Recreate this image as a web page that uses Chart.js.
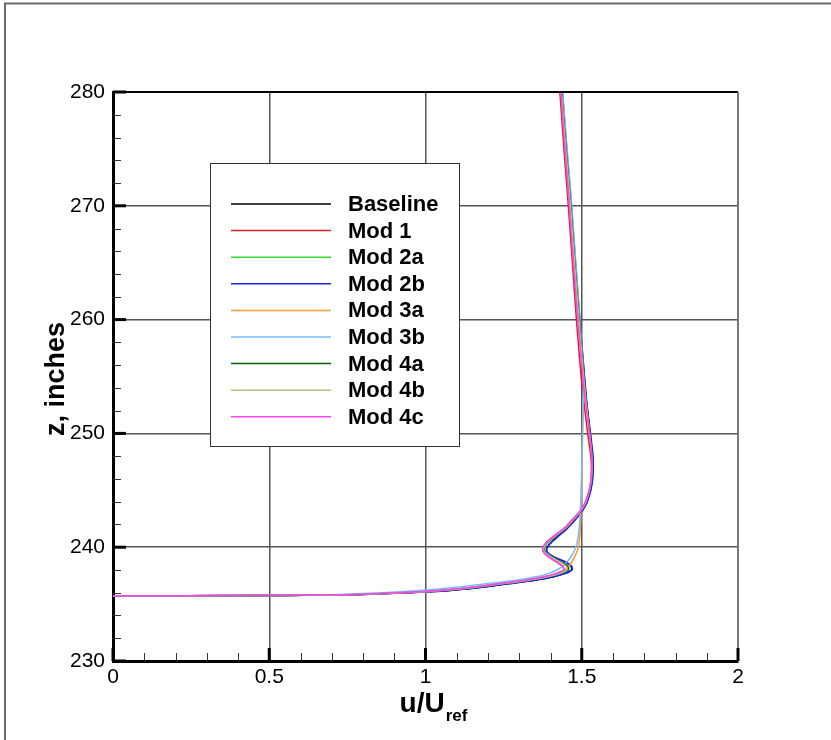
<!DOCTYPE html>
<html>
<head>
<meta charset="utf-8">
<title>Velocity profiles</title>
<script src="https://cdn.jsdelivr.net/npm/chart.js@4.4.1/dist/chart.umd.min.js"></script>
<style>
  html, body { margin: 0; padding: 0; background: #ffffff; }
  #wrap { position: relative; width: 831px; height: 740px; }
  canvas { display: block; }
</style>
</head>
<body>
<div id="wrap"><canvas id="chart" width="831" height="740"></canvas></div>
<script>
// Heights (inches) at which every profile is sampled
const heights = [235.74, 235.75, 235.77, 235.80, 235.87, 235.95, 236.10, 236.30, 236.55, 236.80,
                 237.10, 237.40, 237.70, 238.00, 238.30, 238.70, 239.10, 239.50, 239.80, 240.10,
                 240.50, 241.00, 241.50, 242.00, 242.50, 243.00, 243.50, 244.00, 245.00, 246.00,
                 247.00, 248.00, 250.00, 252.50, 255.00, 260.00, 265.00, 270.00, 275.00, 280.00];

// u/Uref for each configuration, one value per height above
const uBaseline = [0, 0.47, 0.62, 0.72, 0.82, 0.90, 1.03, 1.12, 1.20, 1.27,
                   1.35, 1.41, 1.447, 1.467, 1.466, 1.447, 1.412, 1.390, 1.387, 1.392,
                   1.405, 1.425, 1.447, 1.465, 1.481, 1.496, 1.508, 1.517, 1.528, 1.534,
                   1.536, 1.535, 1.527, 1.516, 1.508, 1.493, 1.479, 1.466, 1.451, 1.437];
const uMod1     = [0, 0.45, 0.60, 0.70, 0.80, 0.88, 1.00, 1.09, 1.17, 1.24,
                   1.32, 1.38, 1.42, 1.442, 1.440, 1.420, 1.397, 1.380, 1.375, 1.378,
                   1.390, 1.412, 1.437, 1.456, 1.473, 1.490, 1.503, 1.512, 1.524, 1.530,
                   1.531, 1.529, 1.519, 1.508, 1.498, 1.483, 1.470, 1.457, 1.443, 1.430];
const uMod2a    = [0, 0.46, 0.61, 0.71, 0.81, 0.89, 1.015, 1.105, 1.185, 1.255,
                   1.335, 1.397, 1.437, 1.458, 1.457, 1.437, 1.409, 1.387, 1.381, 1.384,
                   1.396, 1.420, 1.443, 1.462, 1.478, 1.494, 1.506, 1.515, 1.526, 1.532,
                   1.534, 1.533, 1.526, 1.516, 1.507, 1.492, 1.478, 1.465, 1.450, 1.436];
const uMod2b    = [0, 0.47, 0.62, 0.72, 0.82, 0.90, 1.03, 1.12, 1.20, 1.27,
                   1.35, 1.41, 1.448, 1.469, 1.468, 1.449, 1.414, 1.391, 1.388, 1.393,
                   1.406, 1.426, 1.448, 1.466, 1.482, 1.497, 1.509, 1.518, 1.529, 1.535,
                   1.537, 1.536, 1.528, 1.517, 1.509, 1.494, 1.480, 1.467, 1.452, 1.438];
const uMod3a    = [0, 0.45, 0.60, 0.70, 0.80, 0.88, 1.00, 1.09, 1.17, 1.24,
                   1.32, 1.38, 1.425, 1.445, 1.457, 1.468, 1.476, 1.483, 1.487, 1.490,
                   1.492, 1.494, 1.495, 1.496, 1.497, 1.497, 1.498, 1.498, 1.499, 1.500,
                   1.501, 1.501, 1.503, 1.505, 1.506, 1.492, 1.478, 1.466, 1.451, 1.437];
const uMod3b    = [0, 0.40, 0.55, 0.64, 0.74, 0.82, 0.93, 1.03, 1.12, 1.20,
                   1.29, 1.355, 1.395, 1.420, 1.437, 1.452, 1.464, 1.473, 1.478, 1.482,
                   1.486, 1.489, 1.491, 1.493, 1.494, 1.495, 1.496, 1.497, 1.498, 1.499,
                   1.500, 1.501, 1.502, 1.504, 1.506, 1.494, 1.481, 1.468, 1.453, 1.439];
const uMod4a    = [0, 0.46, 0.61, 0.71, 0.81, 0.89, 1.015, 1.105, 1.185, 1.255,
                   1.335, 1.395, 1.435, 1.456, 1.455, 1.435, 1.408, 1.386, 1.380, 1.382,
                   1.393, 1.418, 1.442, 1.461, 1.477, 1.493, 1.506, 1.515, 1.526, 1.532,
                   1.534, 1.533, 1.526, 1.516, 1.507, 1.492, 1.478, 1.465, 1.450, 1.436];
const uMod4b    = [0, 0.46, 0.61, 0.71, 0.81, 0.89, 1.01, 1.10, 1.18, 1.25,
                   1.33, 1.392, 1.432, 1.452, 1.451, 1.431, 1.405, 1.384, 1.378, 1.381,
                   1.392, 1.416, 1.440, 1.460, 1.476, 1.492, 1.505, 1.514, 1.525, 1.531,
                   1.533, 1.532, 1.525, 1.515, 1.506, 1.491, 1.477, 1.464, 1.449, 1.435];
const uMod4c    = [0, 0.45, 0.60, 0.70, 0.80, 0.88, 1.00, 1.09, 1.17, 1.24,
                   1.32, 1.38, 1.42, 1.442, 1.440, 1.420, 1.397, 1.380, 1.375, 1.378,
                   1.390, 1.412, 1.437, 1.456, 1.473, 1.490, 1.503, 1.512, 1.524, 1.530,
                   1.532, 1.532, 1.525, 1.513, 1.503, 1.487, 1.473, 1.460, 1.446, 1.433];

const seriesNames  = ['Baseline', 'Mod 1', 'Mod 2a', 'Mod 2b', 'Mod 3a', 'Mod 3b', 'Mod 4a', 'Mod 4b', 'Mod 4c'];
const seriesValues = [uBaseline, uMod1, uMod2a, uMod2b, uMod3a, uMod3b, uMod4a, uMod4b, uMod4c];
const seriesColors = ['#000000', '#dd2020', '#33dd33', '#2020ff', '#ff9933', '#77bbff', '#006400', '#bdbd8a', '#ff44ee'];

// Axis ticks
const xTickValues = [0, 0.5, 1, 1.5, 2];
const yTickValues = [230, 240, 250, 260, 270, 280];
const xMinorStep = 0.1;
const yMinorStep = 2;

const FONT = '"Liberation Sans", Arial, Helvetica, sans-serif';

const datasets = seriesNames.map((name, i) => ({
  label: name,
  data: heights.map((z, k) => ({ x: seriesValues[i][k], y: z })),
  borderColor: seriesColors[i],
  backgroundColor: seriesColors[i],
  borderWidth: 1.5,
  pointRadius: 0,
  showLine: true,
  tension: 0.25,
  order: -i
}));

// Legend box, inward tick marks, plot frame, outer frame and axis titles
const framePlugin = {
  id: 'frameDecor',
  afterDatasetsDraw(chart) {
    const ctx = chart.ctx;
    const box = { x: 210.5, y: 163.5, w: 249, h: 283 };
    ctx.save();
    ctx.fillStyle = '#ffffff';
    ctx.fillRect(box.x, box.y, box.w, box.h);
    ctx.strokeStyle = '#333333';
    ctx.lineWidth = 1;
    ctx.strokeRect(box.x, box.y, box.w, box.h);
    ctx.font = 'bold 22px ' + FONT;
    ctx.textBaseline = 'middle';
    ctx.textAlign = 'left';
    chart.data.datasets.forEach((ds, i) => {
      const rowY = 204 + i * 26.6;
      ctx.strokeStyle = ds.borderColor;
      ctx.lineWidth = 1.5;
      ctx.beginPath();
      ctx.moveTo(231, rowY);
      ctx.lineTo(331, rowY);
      ctx.stroke();
      ctx.fillStyle = '#000000';
      ctx.fillText(ds.label, 348, rowY + 1);
    });
    ctx.restore();
  },
  afterDraw(chart) {
    const ctx = chart.ctx;
    const xs = chart.scales.x;
    const ys = chart.scales.y;
    const area = chart.chartArea;
    ctx.save();

    // top and right edges of the plot
    ctx.strokeStyle = '#000000';
    ctx.lineWidth = 2;
    ctx.beginPath();
    ctx.moveTo(area.left, area.top);
    ctx.lineTo(area.right, area.top);
    ctx.stroke();
    ctx.strokeStyle = '#777777';
    ctx.beginPath();
    ctx.moveTo(area.right, area.top);
    ctx.lineTo(area.right, area.bottom);
    ctx.stroke();

    // minor ticks
    ctx.strokeStyle = '#333333';
    ctx.lineWidth = 1;
    for (let k = 1; k < Math.round((xs.max - xs.min) / xMinorStep); k++) {
      const v = xs.min + k * xMinorStep;
      if (Math.abs(v * 2 - Math.round(v * 2)) < 1e-6) continue;
      const px = Math.round(xs.getPixelForValue(v)) + 0.5;
      ctx.beginPath();
      ctx.moveTo(px, area.bottom);
      ctx.lineTo(px, area.bottom - 8);
      ctx.stroke();
    }
    for (let v = ys.min + yMinorStep; v < ys.max; v += yMinorStep) {
      if (v % 10 === 0) continue;
      const py = Math.round(ys.getPixelForValue(v)) + 0.5;
      ctx.beginPath();
      ctx.moveTo(area.left, py);
      ctx.lineTo(area.left + 8, py);
      ctx.stroke();
    }

    // major ticks
    ctx.strokeStyle = '#000000';
    ctx.lineWidth = 3;
    xTickValues.forEach(v => {
      const px = xs.getPixelForValue(v);
      ctx.beginPath();
      ctx.moveTo(px, area.bottom);
      ctx.lineTo(px, area.bottom - 13);
      ctx.stroke();
    });
    yTickValues.forEach(v => {
      const py = ys.getPixelForValue(v);
      ctx.beginPath();
      ctx.moveTo(area.left, py);
      ctx.lineTo(area.left + 13, py);
      ctx.stroke();
    });

    // outer frame
    ctx.strokeStyle = '#6a6a6a';
    ctx.lineWidth = 2;
    ctx.beginPath();
    ctx.moveTo(5, chart.height);
    ctx.lineTo(5, 3.5);
    ctx.lineTo(chart.width, 3.5);
    ctx.stroke();

    // y-axis title
    ctx.fillStyle = '#000000';
    ctx.save();
    ctx.translate(57, 379);
    ctx.rotate(-Math.PI / 2);
    ctx.font = 'bold 27px ' + FONT;
    ctx.textAlign = 'center';
    ctx.textBaseline = 'middle';
    ctx.fillText('z, inches', 0, 0);
    ctx.restore();

    // x-axis title with subscript
    ctx.textBaseline = 'alphabetic';
    ctx.textAlign = 'left';
    ctx.font = 'bold 28px ' + FONT;
    const main = 'u/U';
    const wMain = ctx.measureText(main).width;
    ctx.font = 'bold 17px ' + FONT;
    const sub = 'ref';
    const wSub = ctx.measureText(sub).width;
    const startX = 433 - (wMain + wSub) / 2;
    ctx.font = 'bold 28px ' + FONT;
    ctx.fillText(main, startX, 712);
    ctx.font = 'bold 17px ' + FONT;
    ctx.fillText(sub, startX + wMain + 1, 721);
    ctx.restore();
  }
};

new Chart(document.getElementById('chart'), {
  type: 'scatter',
  data: { datasets },
  plugins: [framePlugin],
  options: {
    responsive: false,
    devicePixelRatio: 1,
    animation: false,
    layout: { padding: { left: 0, right: 93, top: 92, bottom: 0 } },
    plugins: {
      legend: { display: false },
      tooltip: { enabled: false }
    },
    scales: {
      x: {
        type: 'linear',
        position: 'bottom',
        min: 0,
        max: 2,
        afterBuildTicks: s => { s.ticks = xTickValues.map(v => ({ value: v })); },
        afterFit: s => { s.height = 79; },
        ticks: {
          font: { family: FONT, size: 21 },
          color: '#000000',
          padding: 4,
          maxRotation: 0,
          callback: v => String(v)
        },
        grid: { color: '#555555', lineWidth: 1.5, drawTicks: false },
        border: { color: '#000000', width: 3 }
      },
      y: {
        type: 'linear',
        position: 'left',
        min: 230,
        max: 280,
        afterBuildTicks: s => { s.ticks = yTickValues.map(v => ({ value: v })); },
        afterFit: s => { s.width = 113; },
        ticks: {
          font: { family: FONT, size: 21 },
          color: '#000000',
          padding: 8,
          callback: v => String(v)
        },
        grid: { color: '#555555', lineWidth: 1.5, drawTicks: false },
        border: { color: '#000000', width: 3 }
      }
    }
  }
});
</script>
</body>
</html>
